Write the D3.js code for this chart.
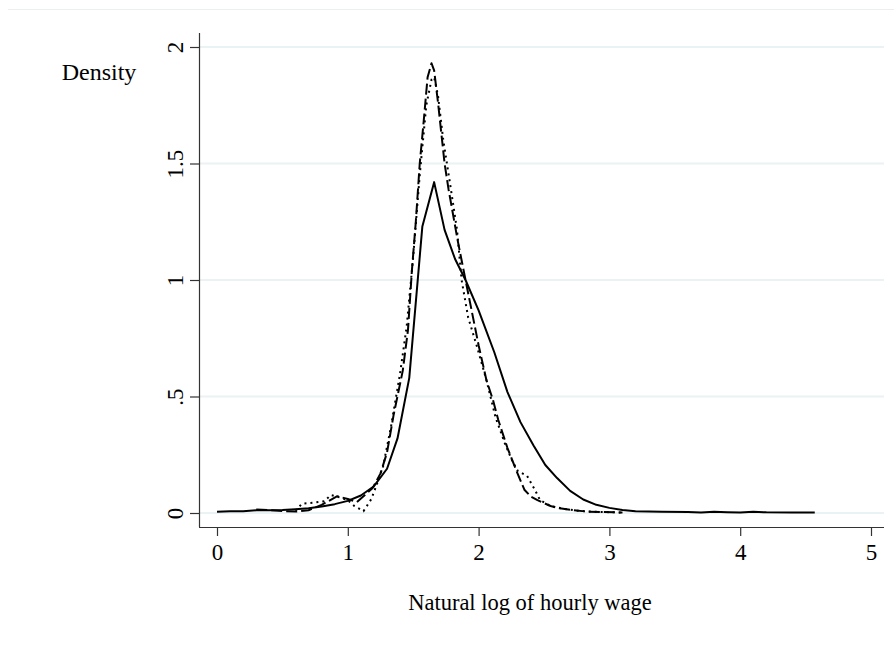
<!DOCTYPE html>
<html>
<head>
<meta charset="utf-8">
<script src="https://cdn.jsdelivr.net/npm/d3@7"></script>
<style>
  html, body { margin: 0; padding: 0; background: #ffffff; }
  svg { display: block; }
  text { font-family: "Liberation Serif", "Times New Roman", serif; fill: #000; }
</style>
</head>
<body>
<svg id="chart" width="894" height="658"></svg>
<script>
// ---- data ----
const xTicks = [0, 1, 2, 3, 4, 5];
const yTicks = [0, 0.5, 1, 1.5, 2];
const yTickLabels = ["0", ".5", "1", "1.5", "2"];
const xTitle = "Natural log of hourly wage";
const yTitle = "Density";

const solidX = [0.00,0.10,0.20,0.30,0.40,0.50,0.60,0.70,0.80,0.90,1.00,1.10,1.20,1.30,1.38,1.47,1.57,1.66,1.74,1.82,1.90,2.00,2.12,2.22,2.32,2.42,2.51,2.60,2.70,2.80,2.90,3.00,3.10,3.20,3.40,3.60,3.70,3.80,3.90,4.00,4.10,4.20,4.40,4.57];
const solidY = [0.005,0.008,0.007,0.012,0.012,0.013,0.016,0.020,0.028,0.038,0.052,0.075,0.115,0.19,0.32,0.58,1.23,1.42,1.215,1.09,1.00,0.87,0.69,0.52,0.39,0.29,0.206,0.15,0.095,0.058,0.035,0.022,0.013,0.008,0.005,0.004,0.002,0.005,0.003,0.002,0.005,0.003,0.002,0.002];

const dashX = [0.30,0.40,0.50,0.60,0.70,0.80,0.92,1.00,1.07,1.19,1.25,1.30,1.35,1.42,1.46,1.49,1.52,1.55,1.58,1.61,1.64,1.66,1.69,1.74,1.77,1.84,1.90,1.95,2.00,2.06,2.11,2.15,2.22,2.29,2.35,2.40,2.45,2.55,2.62,2.72,2.83,2.95,3.10];
const dashY = [0.015,0.012,0.008,0.006,0.012,0.035,0.072,0.060,0.047,0.107,0.17,0.26,0.42,0.61,0.785,1.04,1.25,1.50,1.68,1.87,1.93,1.90,1.76,1.50,1.39,1.17,1.00,0.86,0.72,0.57,0.485,0.40,0.28,0.18,0.10,0.07,0.055,0.03,0.02,0.012,0.006,0.004,0.002];

const dotX = [0.60,0.65,0.75,0.82,0.87,0.92,1.00,1.05,1.12,1.18,1.22,1.27,1.33,1.40,1.45,1.50,1.55,1.60,1.64,1.66,1.69,1.73,1.78,1.835,1.87,1.92,1.99,2.06,2.13,2.20,2.26,2.30,2.37,2.43,2.47,2.55,2.65,2.75,2.90,3.10];
const dotY = [0.010,0.040,0.045,0.050,0.077,0.070,0.055,0.030,0.008,0.060,0.12,0.20,0.37,0.60,0.80,1.10,1.45,1.75,1.86,1.87,1.79,1.60,1.42,1.215,1.00,0.84,0.71,0.57,0.41,0.30,0.22,0.18,0.16,0.10,0.055,0.03,0.018,0.010,0.005,0.002];

// ---- layout ----
const svg = d3.select("#chart");
const plotLeft = 199, plotRight = 884, plotTop = 33, plotBottom = 527;

const x = d3.scaleLinear().domain([0, 5]).range([217, 871]);
const y = d3.scaleLinear().domain([0, 2]).range([513, 47]);

// faint outer frame (top edge only visible)
svg.append("line")
  .attr("x1", 8).attr("x2", 894).attr("y1", 9.5).attr("y2", 9.5)
  .attr("stroke", "#eaf0f2").attr("stroke-width", 1);

// gridlines
svg.append("g").selectAll("line").data(yTicks).join("line")
  .attr("x1", plotLeft).attr("x2", plotRight)
  .attr("y1", d => y(d)).attr("y2", d => y(d))
  .attr("stroke", "#eaf2f3").attr("stroke-width", 2);

// y axis
const yAxis = d3.axisLeft(y).tickValues(yTicks).tickSize(9)
  .tickFormat((d, i) => yTickLabels[i]);
const gy = svg.append("g").attr("transform", `translate(${plotLeft},0)`).call(yAxis);
gy.select(".domain").attr("d", `M0.5,${plotTop}V${plotBottom}`).attr("stroke", "#333").attr("stroke-width", 1.2);
gy.selectAll(".tick line").attr("stroke", "#333").attr("stroke-width", 1.2);
gy.selectAll(".tick text")
  .attr("x", 0).attr("y", 0).attr("dy", null)
  .attr("transform", "translate(-16,0) rotate(-90)")
  .attr("text-anchor", "middle")
  .style("font-family", "'Liberation Serif', serif")
  .style("font-size", "23px").attr("fill", "#000");

// x axis
const xAxis = d3.axisBottom(x).tickValues(xTicks).tickSize(9).tickFormat(d3.format("d"));
const gx = svg.append("g").attr("transform", `translate(0,${plotBottom})`).call(xAxis);
gx.select(".domain").attr("d", `M${plotLeft},0.5H${plotRight}`).attr("stroke", "#333").attr("stroke-width", 1.2);
gx.selectAll(".tick line").attr("stroke", "#333").attr("stroke-width", 1.2);
gx.selectAll(".tick text")
  .attr("y", 33).attr("dy", null)
  .style("font-family", "'Liberation Serif', serif")
  .style("font-size", "23px").attr("fill", "#000");

// titles
svg.append("text").attr("x", 530).attr("y", 610).attr("text-anchor", "middle")
  .style("font-size", "22.5px").text(xTitle);
svg.append("text").attr("x", 99).attr("y", 80).attr("text-anchor", "middle")
  .style("font-size", "24px").text(yTitle);

// lines
const line = d3.line().x(d => x(d[0])).y(d => y(d[1])).curve(d3.curveLinear);
const series = [
  { xs: solidX, ys: solidY, dash: null },
  { xs: dashX, ys: dashY, dash: "11,4" },
  { xs: dotX, ys: dotY, dash: "2,4" }
];
svg.append("g").selectAll("path").data(series).join("path")
  .attr("d", s => line(s.xs.map((v, i) => [v, s.ys[i]])))
  .attr("fill", "none").attr("stroke", "#000").attr("stroke-width", 2)
  .attr("stroke-linejoin", "round")
  .attr("stroke-dasharray", s => s.dash);
</script>
</body>
</html>
